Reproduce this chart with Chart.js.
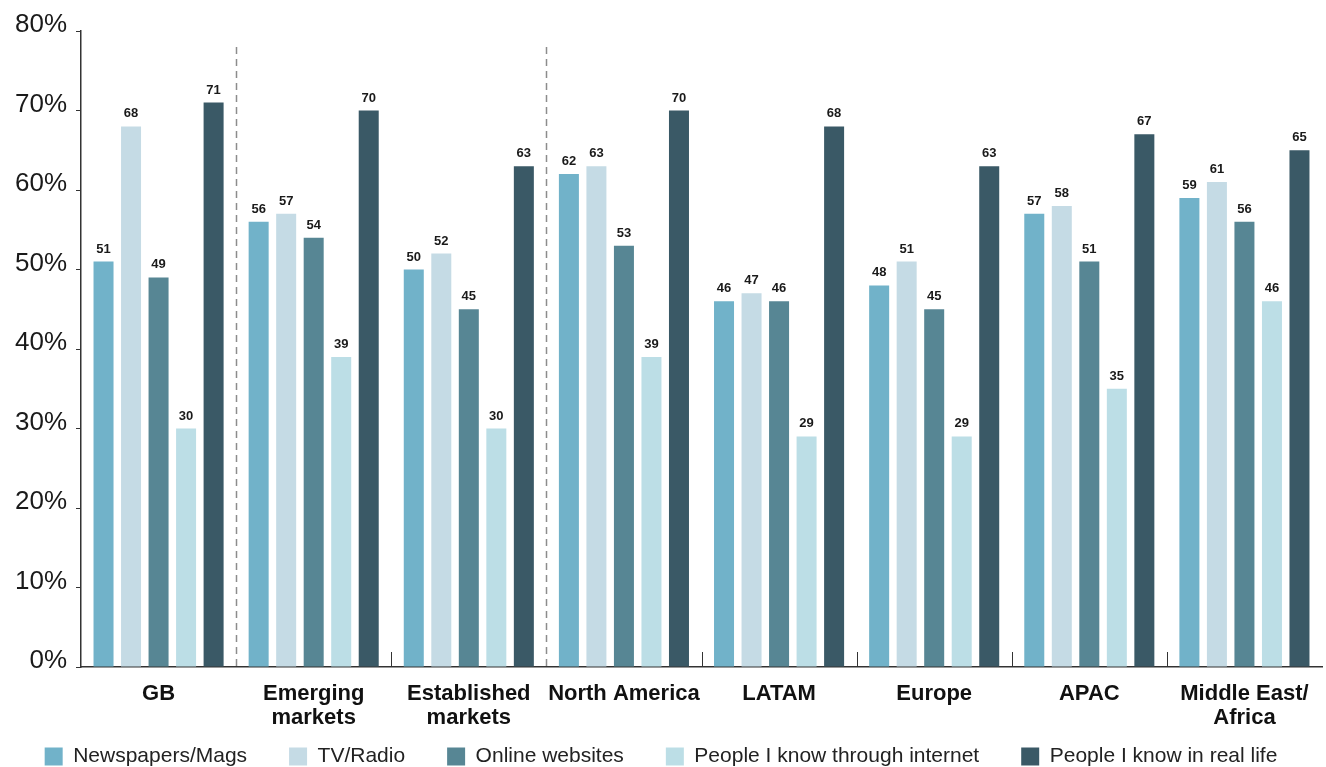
<!DOCTYPE html>
<html>
<head>
<meta charset="utf-8">
<script src="https://cdn.jsdelivr.net/npm/chart.js@4.4.1/dist/chart.umd.min.js"></script>
<style>
  html, body { margin: 0; padding: 0; background: #ffffff; overflow: hidden; }
  #wrap { width: 1326px; height: 767px; position: relative; }
</style>
</head>
<body>
<div id="wrap"><canvas id="sourcesChart"></canvas></div>
<script>
// Categories and series values (percent)
const categories = [
    'GB',
    ['Emerging', 'markets'],
    ['Established', 'markets'],
    'North America',
    'LATAM',
    'Europe',
    'APAC',
    ['Middle East/', 'Africa']
];
const newspapersMags   = [51, 56, 50, 62, 46, 48, 57, 59];
const tvRadio          = [68, 57, 52, 63, 47, 51, 58, 61];
const onlineWebsites   = [49, 54, 45, 53, 46, 45, 51, 56];
const peopleInternet   = [30, 39, 30, 39, 29, 29, 35, 46];
const peopleRealLife   = [71, 70, 63, 70, 68, 63, 67, 65];
const yTicks = [0, 10, 20, 30, 40, 50, 60, 70, 80];

// dashed separators after these category indexes, short ticks elsewhere
const dashedAfter = [0, 2];

const FONT = "'Liberation Sans', Arial, Helvetica, sans-serif";
const LEGEND_PAD = 42;

// Value labels above each bar
const valueLabels = {
    id: 'valueLabels',
    afterDatasetsDraw(chart) {
        const ctx = chart.ctx;
        ctx.save();
        ctx.font = 'bold 13px ' + FONT;
        ctx.fillStyle = '#1a1a1a';
        ctx.textAlign = 'center';
        ctx.textBaseline = 'alphabetic';
        chart.data.datasets.forEach((ds, di) => {
            const meta = chart.getDatasetMeta(di);
            meta.data.forEach((bar, i) => {
                ctx.fillText(ds.data[i], bar.x, bar.y - 9);
            });
        });
        ctx.restore();
    }
};

// Group separators (dashed tall lines / short solid ticks)
const separators = {
    id: 'separators',
    afterDatasetsDraw(chart) {
        const ctx = chart.ctx;
        const x = chart.scales.x;
        const y = chart.scales.y;
        const bottom = chart.chartArea.bottom;
        ctx.save();
        for (let i = 0; i < categories.length - 1; i++) {
            const px = Math.round((x.getPixelForValue(i) + x.getPixelForValue(i + 1)) / 2) + 0.5;
            ctx.beginPath();
            if (dashedAfter.includes(i)) {
                ctx.strokeStyle = '#8c8c8c';
                ctx.lineWidth = 1.5;
                ctx.setLineDash([7, 5]);
                ctx.moveTo(px, y.getPixelForValue(78));
            } else {
                ctx.strokeStyle = '#333333';
                ctx.lineWidth = 1;
                ctx.setLineDash([]);
                ctx.moveTo(px, bottom - 15);
            }
            ctx.lineTo(px, bottom);
            ctx.stroke();
        }
        ctx.restore();
    }
};

// Legend takes little layout room but keeps wide spacing between items
const compactLegend = {
    id: 'compactLegend',
    afterInit(chart) {
        const legend = chart.legend;
        const fit = legend.fit;
        legend.fit = function() {
            fit.call(this);
            this.height = 30;
        };
    },
    afterLayout(chart) {
        const legend = chart.legend;
        legend.top = legend.bottom - 30 - LEGEND_PAD;
    }
};

function series(label, data, color) {
    return {
        label: label,
        data: data,
        backgroundColor: color,
        borderWidth: 0,
        barPercentage: 0.727,
        categoryPercentage: 0.887
    };
}

new Chart(document.getElementById('sourcesChart'), {
    type: 'bar',
    data: {
        labels: categories,
        datasets: [
            series('Newspapers/Mags', newspapersMags, '#71b2c9'),
            series('TV/Radio', tvRadio, '#c5dbe5'),
            series('Online websites', onlineWebsites, '#578694'),
            series('People I know through internet', peopleInternet, '#bcdee6'),
            series('People I know in real life', peopleRealLife, '#3a5966')
        ]
    },
    options: {
        responsive: true,
        maintainAspectRatio: false,
        animation: false,
        layout: {
            padding: { top: 31, right: 4, left: 0, bottom: -9 }
        },
        plugins: {
            legend: {
                display: true,
                position: 'bottom',
                labels: {
                    color: '#222222',
                    font: { family: FONT, size: 21 },
                    boxWidth: 18,
                    boxHeight: 18,
                    padding: LEGEND_PAD
                }
            },
            tooltip: { enabled: false }
        },
        scales: {
            y: {
                min: 0,
                max: 80,
                afterFit: function(scale) { scale.width = 81; },
                afterBuildTicks: function(scale) {
                    scale.ticks = yTicks.map(v => ({ value: v }));
                },
                grid: {
                    drawOnChartArea: false,
                    drawTicks: true,
                    tickLength: 5,
                    color: '#333333'
                },
                border: { display: true, color: '#333333', width: 1.5 },
                ticks: {
                    color: '#1a1a1a',
                    padding: 9,
                    labelOffset: -6,
                    font: { family: FONT, size: 26 },
                    callback: function(value) { return value + '%'; }
                }
            },
            x: {
                afterFit: function(scale) { scale.height = 79; },
                grid: { display: false, drawTicks: false },
                border: { display: true, color: '#333333', width: 1.5 },
                ticks: {
                    color: '#111111',
                    padding: 15,
                    maxRotation: 0,
                    autoSkip: false,
                    font: { family: FONT, size: 22, weight: 'bold', lineHeight: 1.1 }
                }
            }
        }
    },
    plugins: [valueLabels, separators, compactLegend]
});
</script>
</body>
</html>
